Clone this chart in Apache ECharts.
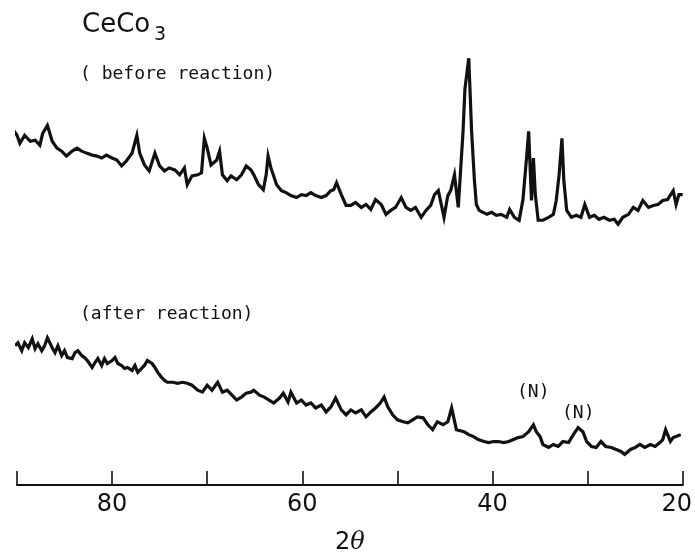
<!DOCTYPE html>
<html>
<head>
<meta charset="utf-8">
<script src="https://cdn.jsdelivr.net/npm/echarts@6/dist/echarts.min.js"></script>
<style>html,body{margin:0;padding:0;background:#fff}#c{width:695px;height:560px}</style>
</head>
<body>
<div id="c"></div>
<script>
// 2θ positions and intensities (arbitrary units): before reaction
const beforeTheta = [90.5,90.0,89.7,89.2,88.6,88.1,87.6,87.3,86.8,86.3,85.8,85.3,84.8,84.2,83.7,83.2,82.7,82.1,81.6,81.1,80.6,80.0,79.5,79.0,78.5,77.9,77.4,77.1,76.6,76.1,75.5,75.0,74.5,74.0,73.4,72.9,72.4,72.1,71.6,71.0,70.6,70.3,70.0,69.6,69.0,68.7,68.4,67.9,67.5,66.9,66.4,65.9,65.4,65.1,64.6,64.1,63.8,63.6,63.3,62.7,62.2,61.7,61.2,60.6,60.1,59.6,59.1,58.6,58.0,57.5,57.0,56.7,56.4,55.9,55.4,54.9,54.4,53.8,53.3,52.8,52.3,51.7,51.2,50.7,50.2,49.6,49.1,48.6,48.1,47.5,47.0,46.5,46.1,45.7,45.1,44.7,44.4,44.0,43.6,43.4,43.1,42.9,42.5,42.4,42.2,41.9,41.7,41.4,40.6,40.1,39.6,39.1,38.5,38.2,37.7,37.2,36.8,36.4,36.2,36.1,35.9,35.7,35.5,35.2,34.7,34.1,33.6,33.3,33.0,32.7,32.5,32.2,31.7,31.2,30.7,30.3,29.8,29.3,28.8,28.3,27.7,27.2,26.8,26.3,25.7,25.2,24.7,24.2,23.6,23.1,22.6,22.1,21.6,21.0,20.7,20.4,20.0];
const beforeI = [361,354,346,354,348,349,344,356,364,348,341,338,333,338,341,338,336,334,333,331,334,331,329,323,328,336,354,336,324,318,336,323,318,321,319,314,321,304,313,314,316,351,341,324,329,338,314,308,313,309,314,323,319,314,304,299,314,333,321,304,298,296,293,291,294,293,296,293,291,293,298,299,306,294,283,283,286,281,284,279,289,284,274,278,281,291,281,278,281,271,278,283,294,298,271,293,298,314,281,279,358,401,432,408,358,308,284,278,274,276,273,274,271,279,271,268,289,334,358,334,288,331,294,268,268,271,274,288,314,351,308,278,271,273,271,284,271,273,269,271,268,269,264,271,274,281,278,288,281,283,284,288,289,298,284,294,294];

// after reaction
const afterTheta = [90.2,89.9,89.5,89.2,88.8,88.4,88.1,87.8,87.4,87.1,86.8,86.3,86.0,85.7,85.3,85.0,84.7,84.2,83.9,83.6,83.2,82.9,82.6,82.1,81.8,81.5,81.1,80.8,80.5,80.0,79.7,79.4,79.0,78.7,78.4,77.9,77.6,77.3,76.9,76.6,76.3,75.8,75.5,75.2,74.8,74.5,74.2,73.6,73.1,72.6,72.1,71.6,71.0,70.5,70.0,69.5,68.9,68.4,67.9,67.5,66.9,66.4,65.9,65.4,65.1,64.5,64.0,63.5,63.0,62.4,62.0,61.5,61.2,60.6,60.1,59.6,59.1,58.6,58.0,57.5,57.0,56.5,55.9,55.4,54.9,54.4,53.8,53.3,52.8,52.3,51.8,51.4,51.0,50.5,50.0,49.4,48.9,48.4,47.9,47.3,46.8,46.3,45.8,45.2,44.7,44.3,43.8,43.0,42.5,42.0,41.5,40.9,40.4,39.9,39.4,38.8,38.3,37.8,37.3,36.8,36.2,35.7,35.4,35.0,34.7,34.1,33.6,33.1,32.6,32.0,31.5,31.0,30.5,30.1,29.6,29.1,28.6,28.1,27.5,27.0,26.5,26.1,25.5,25.0,24.5,24.0,23.4,22.9,22.4,22.1,21.8,21.3,21.0,20.7,20.2];
const afterI = [141,144,136,144,139,148,138,143,136,141,149,139,134,141,131,136,129,128,134,136,131,129,126,119,124,128,121,128,123,126,129,123,121,118,119,116,121,114,118,121,126,123,119,114,109,106,104,104,103,104,103,101,96,94,101,96,104,94,96,92,86,89,93,94,96,91,89,86,83,88,93,84,94,83,86,81,83,78,81,74,79,88,76,71,76,73,76,69,74,78,83,89,79,71,66,64,63,66,69,68,61,56,64,61,64,78,56,54,51,49,46,44,43,44,44,43,44,46,48,49,54,61,54,49,41,38,41,39,44,43,51,58,54,44,39,38,44,39,38,36,34,31,36,38,41,38,41,39,43,46,56,44,48,49,51];

const xTicks = [90,80,70,60,50,40,30,20];
const xLabels = [80,60,40,20];

const toPairs = (xs, ys) => xs.map((x, i) => [x, ys[i]]);

const chart = echarts.init(document.getElementById('c'), null, {renderer: 'canvas'});
chart.setOption({
  backgroundColor: '#ffffff',
  animation: false,
  grid: {left: 17, right: 10, top: 0, bottom: 69, containLabel: false},
  xAxis: {
    type: 'value', min: 20, max: 90, interval: 10, inverse: true,
    axisLine: {show: true, lineStyle: {color: '#111', width: 2}},
    axisTick: {show: true, inside: true, length: 14, lineStyle: {color: '#111', width: 1.6}},
    splitLine: {show: false},
    axisLabel: {
      margin: 8, color: '#111', fontFamily: 'DejaVu Sans', fontSize: 24,
      formatter: v => xLabels.indexOf(v) < 0 ? '' : (v === 20 ? '{r|' + v + '}' : String(v)),
      rich: {r: {fontFamily: 'DejaVu Sans', fontSize: 24, color: '#111', padding: [0, 12, 0, 0]}}
    },
    name: '2{i|θ}', nameLocation: 'middle', nameGap: 46,
    nameTextStyle: {fontFamily: 'DejaVu Sans', fontSize: 24, color: '#111',
      rich: {i: {fontFamily: 'DejaVu Serif', fontStyle: 'italic', fontSize: 24, color: '#111'}}}
  },
  yAxis: {type: 'value', min: 0, max: 491, show: false},
  series: [
    {type: 'line', name: 'before reaction', data: toPairs(beforeTheta, beforeI), showSymbol: false, clip: false,
     lineStyle: {color: '#111', width: 3.2, join: 'miter'}, smooth: false},
    {type: 'line', name: 'after reaction', data: toPairs(afterTheta, afterI), showSymbol: false, clip: false,
     lineStyle: {color: '#111', width: 3.2, join: 'miter'}, smooth: false}
  ],
  graphic: [
    {type: 'text', x: 82, y: 25, style: {text: 'CeCo', font: '26px "DejaVu Sans"', fill: '#111', textVerticalAlign: 'middle'}},
    {type: 'text', x: 154, y: 35, style: {text: '3', font: '19px "DejaVu Sans"', fill: '#111', textVerticalAlign: 'middle'}},
    {type: 'text', x: 80, y: 74, style: {text: '( before reaction)', font: '18px "DejaVu Sans Mono"', fill: '#111', textVerticalAlign: 'middle'}},
    {type: 'text', x: 80, y: 314, style: {text: '(after reaction)', font: '18px "DejaVu Sans Mono"', fill: '#111', textVerticalAlign: 'middle'}},
    {type: 'text', x: 517, y: 392, style: {text: '(N)', font: '18px "DejaVu Sans Mono"', fill: '#111', textVerticalAlign: 'middle'}},
    {type: 'text', x: 562, y: 413, style: {text: '(N)', font: '18px "DejaVu Sans Mono"', fill: '#111', textVerticalAlign: 'middle'}}
  ]
});
</script>
</body>
</html>
